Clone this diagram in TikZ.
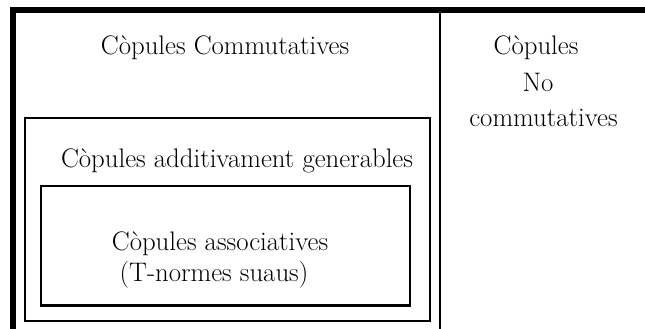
\documentclass[tikz,border=0pt]{standalone}
\begin{document}
\begin{tikzpicture}[x=1pt,y=-1pt,
  lbl/.style={anchor=base,inner sep=0pt,font=\fontsize{26.8}{32}\selectfont},
  frame/.style={draw,line width=2.2pt,inner sep=0pt}]
\useasboundingbox (0,0) rectangle (645,329);
% outer frame
\draw[line width=6pt] (13,329) -- (13,10) -- (645,10);
\coordinate (dtop) at (439.5,10);
\coordinate (dbot) at (439.5,329);
\draw[line width=2pt] (dtop) -- (dbot);
% boxes
\node[frame,minimum width=405pt,minimum height=203pt] (addbox) at (227.5,219.5) {};
\node[frame,minimum width=369pt,minimum height=119.5pt] (assbox) at (225.5,245.75) {};
% labels
\node[lbl] (comm) at (225,55) {Còpules Commutatives};
\node[lbl] (nc1) at (536,55) {Còpules};
\node[lbl] (nc2) at (538,91) {No};
\node[lbl] (nc3) at (543.5,126) {commutatives};
\node[lbl] (add) at (237,167) {Còpules additivament generables};
\node[lbl] (ass) at (220,250) {Còpules associatives};
\node[lbl] (tn) at (214,281) {(T-normes suaus)};
\end{tikzpicture}
\end{document}
